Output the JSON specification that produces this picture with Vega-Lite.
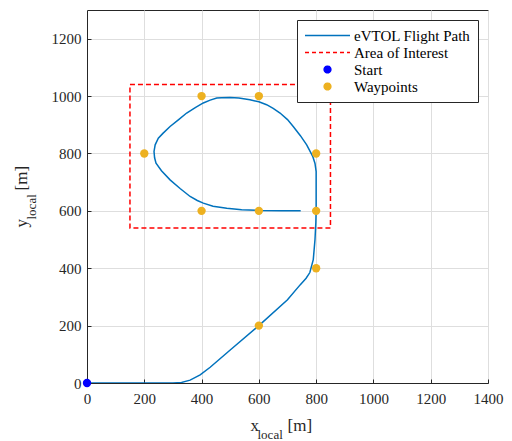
{
  "$schema": "https://vega.github.io/schema/vega-lite/v6.json",
  "width": 401,
  "height": 373,
  "autosize": {"type": "none"},
  "padding": {"left": 87, "top": 10, "right": 24, "bottom": 58},
  "background": "white",
  "config": {
    "view": {"stroke": "#262626", "strokeWidth": 1},
    "font": "Liberation Serif",
    "axis": {"labelFont": "Liberation Serif", "titleFont": "Liberation Serif", "labelColor": "#262626", "titleColor": "#262626", "titleFontWeight": "normal"},
    "axisX": {"labelFont": "Liberation Serif"},
    "axisY": {"labelFont": "Liberation Serif"},
    "axisQuantitative": {"labelFont": "Liberation Serif"}
  },
  "datasets": {
    "path": [
      {"order": 1, "x": 0, "y": 0}, {"order": 2, "x": 100, "y": 0}, {"order": 3, "x": 200, "y": 0},
      {"order": 4, "x": 300, "y": 0}, {"order": 5, "x": 330, "y": 2}, {"order": 6, "x": 360, "y": 10},
      {"order": 7, "x": 395, "y": 28}, {"order": 8, "x": 430, "y": 55}, {"order": 9, "x": 500, "y": 115},
      {"order": 10, "x": 600, "y": 200}, {"order": 11, "x": 700, "y": 290}, {"order": 12, "x": 744, "y": 342},
      {"order": 13, "x": 765, "y": 365}, {"order": 14, "x": 778, "y": 385}, {"order": 15, "x": 790, "y": 430},
      {"order": 16, "x": 796, "y": 500}, {"order": 17, "x": 799, "y": 560}, {"order": 18, "x": 800, "y": 603},
      {"order": 19, "x": 800, "y": 700}, {"order": 20, "x": 800, "y": 737}, {"order": 21, "x": 796, "y": 765},
      {"order": 22, "x": 788, "y": 790}, {"order": 23, "x": 767, "y": 830}, {"order": 24, "x": 745, "y": 862},
      {"order": 25, "x": 720, "y": 894}, {"order": 26, "x": 700, "y": 918}, {"order": 27, "x": 674, "y": 941},
      {"order": 28, "x": 650, "y": 957}, {"order": 29, "x": 627, "y": 970}, {"order": 30, "x": 600, "y": 980},
      {"order": 31, "x": 569, "y": 987}, {"order": 32, "x": 530, "y": 993}, {"order": 33, "x": 499, "y": 995},
      {"order": 34, "x": 470, "y": 994}, {"order": 35, "x": 453, "y": 993}, {"order": 36, "x": 430, "y": 986},
      {"order": 37, "x": 406, "y": 976}, {"order": 38, "x": 378, "y": 960}, {"order": 39, "x": 348, "y": 941},
      {"order": 40, "x": 320, "y": 918}, {"order": 41, "x": 290, "y": 894}, {"order": 42, "x": 265, "y": 870},
      {"order": 43, "x": 249, "y": 853}, {"order": 44, "x": 238, "y": 830}, {"order": 45, "x": 234, "y": 807},
      {"order": 46, "x": 236, "y": 785}, {"order": 47, "x": 241, "y": 766}, {"order": 48, "x": 260, "y": 740},
      {"order": 49, "x": 290, "y": 708}, {"order": 50, "x": 325, "y": 678}, {"order": 51, "x": 360, "y": 650},
      {"order": 52, "x": 385, "y": 636}, {"order": 53, "x": 406, "y": 627}, {"order": 54, "x": 440, "y": 616},
      {"order": 55, "x": 488, "y": 609}, {"order": 56, "x": 540, "y": 604}, {"order": 57, "x": 604, "y": 601},
      {"order": 58, "x": 680, "y": 600}, {"order": 59, "x": 746, "y": 600}
    ],
    "area": [
      {"x1": 150, "x2": 850, "y1": 540, "y2": 1040, "series": "Area of Interest"}
    ],
    "points": [
      {"x": 400, "y": 1000, "series": "Waypoints"},
      {"x": 600, "y": 1000, "series": "Waypoints"},
      {"x": 200, "y": 800, "series": "Waypoints"},
      {"x": 800, "y": 800, "series": "Waypoints"},
      {"x": 400, "y": 600, "series": "Waypoints"},
      {"x": 600, "y": 600, "series": "Waypoints"},
      {"x": 800, "y": 600, "series": "Waypoints"},
      {"x": 800, "y": 400, "series": "Waypoints"},
      {"x": 600, "y": 200, "series": "Waypoints"},
      {"x": 0, "y": 0, "series": "Start"}
    ]
  },
  "layer": [
    {
      "data": {"name": "path"},
      "transform": [{"calculate": "'eVTOL Flight Path'", "as": "series"}],
      "mark": {"type": "line", "strokeWidth": 1.5, "clip": true},
      "encoding": {
        "x": {"field": "x", "type": "quantitative",
          "scale": {"domain": [0, 1400], "nice": false, "zero": false},
          "axis": {"values": [0, 200, 400, 600, 800, 1000, 1200, 1400], "format": "d", "labelFlush": false, "grid": true, "gridColor": "#dedede", "gridWidth": 1,
            "domainColor": "#262626", "tickColor": "#262626", "tickSize": -4, "labelPadding": 12, "labelFontSize": 15, "labelFont": "Liberation Serif",
            "title": "x", "titleFont": "Liberation Serif", "titleFontSize": 17, "titleX": 163, "titleY": 47, "titleAlign": "left", "titleBaseline": "alphabetic", "titleAnchor": null}},
        "y": {"field": "y", "type": "quantitative",
          "scale": {"domain": [0, 1300], "nice": false, "zero": false},
          "axis": {"values": [0, 200, 400, 600, 800, 1000, 1200], "format": "d", "labelFlush": false, "grid": true, "gridColor": "#dedede", "gridWidth": 1,
            "domainColor": "#262626", "tickColor": "#262626", "tickSize": -4, "labelPadding": 10, "labelFontSize": 15, "labelFont": "Liberation Serif",
            "title": "y", "titleFont": "Liberation Serif", "titleFontSize": 17, "titleAngle": 270, "titleX": -61, "titleY": 217, "titleAlign": "left", "titleBaseline": "alphabetic", "titleAnchor": null}},
        "order": {"field": "order", "type": "quantitative"},
        "color": {"field": "series", "type": "nominal",
          "scale": {"domain": ["eVTOL Flight Path", "Area of Interest", "Start", "Waypoints"], "range": ["#0072BD", "#FF0000", "#0000FF", "#EDB120"]},
          "legend": {"title": null, "orient": "top-right", "offset": 10, "fillColor": "white", "strokeColor": "#262626",
            "padding": 7, "labelFont": "Liberation Serif", "labelFontSize": 15, "labelColor": "#000000", "labelOffset": 3,
            "symbolType": "stroke", "symbolSize": 2025, "symbolStrokeWidth": 1.5, "clipHeight": 17, "rowPadding": 0,
            "encode": {"symbols": {"update": {
              "shape": {"signal": "datum.value == 'Start' || datum.value == 'Waypoints' ? 'circle' : 'stroke'"},
              "size": {"signal": "datum.value == 'Start' || datum.value == 'Waypoints' ? 45 : 2025"},
              "fill": {"signal": "datum.value == 'Start' ? '#0000FF' : datum.value == 'Waypoints' ? '#EDB120' : 'transparent'"},
              "stroke": {"signal": "datum.value == 'eVTOL Flight Path' ? '#0072BD' : datum.value == 'Area of Interest' ? '#FF0000' : 'transparent'"},
              "strokeDash": {"signal": "datum.value == 'Area of Interest' ? [4, 3] : [1, 0]"},
              "opacity": {"value": 1}
            }}}}
        }
      }
    },
    {
      "data": {"name": "area"},
      "mark": {"type": "rect", "filled": false, "strokeWidth": 1.5, "strokeDash": [5, 3]},
      "encoding": {
        "x": {"field": "x1", "type": "quantitative",
          "scale": {"domain": [0, 1400], "nice": false, "zero": false},
          "axis": {"orient": "bottom", "grid": false, "labels": false, "ticks": false, "domain": false,
            "title": "local", "titleFont": "Liberation Serif", "titleFontSize": 13, "titleX": 170, "titleY": 55, "titleAlign": "left", "titleBaseline": "alphabetic", "titleAnchor": null}},
        "x2": {"field": "x2"},
        "y": {"field": "y1", "type": "quantitative",
          "scale": {"domain": [0, 1300], "nice": false, "zero": false},
          "axis": {"orient": "left", "grid": false, "labels": false, "ticks": false, "domain": false,
            "title": "local", "titleFont": "Liberation Serif", "titleFontSize": 13, "titleAngle": 270, "titleX": -52, "titleY": 209, "titleAlign": "left", "titleBaseline": "alphabetic", "titleAnchor": null}},
        "y2": {"field": "y2"},
        "color": {"field": "series", "type": "nominal"}
      }
    },
    {
      "data": {"name": "points"},
      "mark": {"type": "point", "filled": true, "shape": "circle", "size": 70, "opacity": 1},
      "encoding": {
        "x": {"field": "x", "type": "quantitative",
          "scale": {"domain": [0, 1400], "nice": false, "zero": false},
          "axis": {"orient": "bottom", "grid": false, "labels": false, "ticks": false, "domain": false,
            "title": "[m]", "titleFont": "Liberation Serif", "titleFontSize": 17, "titleX": 200, "titleY": 47, "titleAlign": "left", "titleBaseline": "alphabetic", "titleAnchor": null}},
        "y": {"field": "y", "type": "quantitative",
          "scale": {"domain": [0, 1300], "nice": false, "zero": false},
          "axis": {"orient": "left", "grid": false, "labels": false, "ticks": false, "domain": false,
            "title": "[m]", "titleFont": "Liberation Serif", "titleFontSize": 17, "titleAngle": 270, "titleX": -61, "titleY": 180, "titleAlign": "left", "titleBaseline": "alphabetic", "titleAnchor": null}},
        "color": {"field": "series", "type": "nominal"}
      }
    }
  ],
  "resolve": {"scale": {"x": "independent", "y": "independent"}, "axis": {"x": "independent", "y": "independent"}}
}
